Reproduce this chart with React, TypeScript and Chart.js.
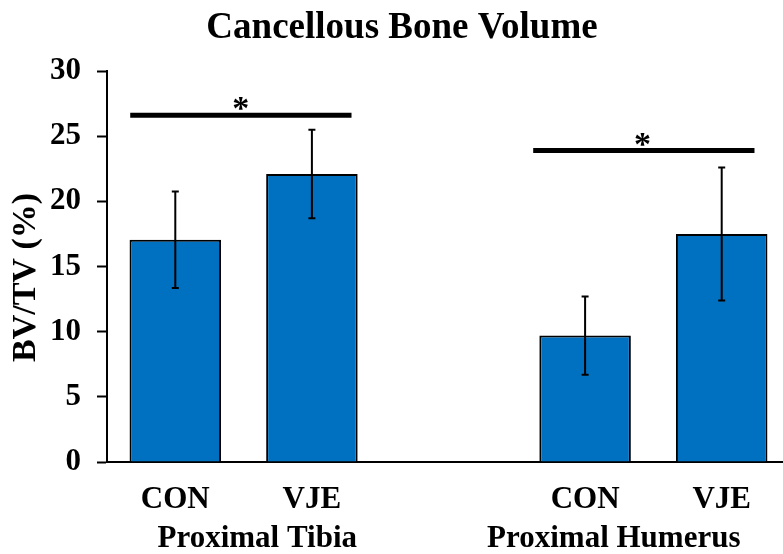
import React, { useEffect, useRef } from "react";
import { Chart, registerables } from "chart.js";

Chart.register(...registerables);

const categories = ["CON", "VJE", "", "CON", "VJE"];
const meanValues = [17.05, 22.1, null, 9.7, 17.5];
const errorValues = [3.7, 3.4, null, 3.0, 5.1];
const yTicks = [0, 5, 10, 15, 20, 25, 30];
const groupLabels = ["Proximal Tibia", "Proximal Humerus"];
const groupLabelPos = [0.6, 3.21];
const sigBars = [
  { from: -0.33, to: 1.29, y: 26.6, star: 0.48 },
  { from: 2.62, to: 4.24, y: 23.9, star: 3.42 },
];

const FONT = "'Liberation Serif', 'Times New Roman', serif";

const overlayPlugin = {
  id: "overlay",
  afterDatasetsDraw(chart: any) {
    const { ctx, scales } = chart;
    const x = scales.x;
    const y = scales.y;
    ctx.save();
    ctx.strokeStyle = "#000";
    ctx.lineWidth = 2;
    meanValues.forEach((m, i) => {
      const e = errorValues[i];
      if (m == null || e == null) return;
      const px = x.getPixelForValue(i);
      const top = y.getPixelForValue(m + e);
      const bot = y.getPixelForValue(m - e);
      ctx.beginPath();
      ctx.moveTo(px, top);
      ctx.lineTo(px, bot);
      ctx.moveTo(px - 3.5, top);
      ctx.lineTo(px + 3.5, top);
      ctx.moveTo(px - 3.5, bot);
      ctx.lineTo(px + 3.5, bot);
      ctx.stroke();
    });
    sigBars.forEach((s) => {
      const py = y.getPixelForValue(s.y);
      ctx.lineWidth = 5;
      ctx.beginPath();
      ctx.moveTo(x.getPixelForValue(s.from), py);
      ctx.lineTo(x.getPixelForValue(s.to), py);
      ctx.stroke();
      ctx.fillStyle = "#000";
      ctx.font = `bold 34px ${FONT}`;
      ctx.textAlign = "center";
      ctx.textBaseline = "alphabetic";
      ctx.fillText("*", x.getPixelForValue(s.star), py + 4);
    });
    ctx.restore();
  },
  afterDraw(chart: any) {
    const { ctx, scales, chartArea } = chart;
    const x = scales.x;
    ctx.save();
    ctx.fillStyle = "#000";
    ctx.textAlign = "center";
    ctx.textBaseline = "middle";
    ctx.font = `bold 37px ${FONT}`;
    ctx.fillText("Cancellous Bone Volume", 402, 28);
    ctx.font = `bold 31px ${FONT}`;
    groupLabels.forEach((g, i) => {
      ctx.fillText(g, x.getPixelForValue(groupLabelPos[i]), 539);
    });
    ctx.translate(26, (chartArea.top + chartArea.bottom) / 2 + 11);
    ctx.rotate(-Math.PI / 2);
    ctx.font = `bold 34px ${FONT}`;
    ctx.fillText("BV/TV (%)", 0, 0);
    ctx.restore();
  },
};

export default function App() {
  const ref = useRef<HTMLCanvasElement | null>(null);
  useEffect(() => {
    document.body.style.margin = "0";
    const canvas = ref.current!;
    const chart = new Chart(canvas, {
      type: "bar",
      data: {
        labels: categories,
        datasets: [
          {
            data: meanValues as any,
            backgroundColor: "#0070C0",
            borderColor: "#000",
            borderWidth: 2,
            barPercentage: 0.67,
            categoryPercentage: 1,
          },
        ],
      },
      options: {
        responsive: false,
        animation: false,
        layout: { padding: { top: 71, right: 10, left: 0, bottom: 0 } },
        plugins: {
          legend: { display: false },
          title: { display: false },
          tooltip: { enabled: false },
        },
        scales: {
          x: {
            grid: { display: false },
            border: { display: true, color: "#000", width: 2 },
            ticks: {
              color: "#000",
              padding: 11,
              font: { family: FONT, size: 31, weight: "bold" },
              maxRotation: 0,
            },
            afterFit(scale: any) {
              scale.height = 92;
            },
          },
          y: {
            min: 0,
            max: 30,
            afterBuildTicks(scale: any) {
              scale.ticks = yTicks.map((v) => ({ value: v }));
            },
            grid: {
              drawOnChartArea: false,
              drawTicks: true,
              tickLength: 10,
              tickColor: "#000",
              tickWidth: 2,
            },
            border: { display: true, color: "#000", width: 2 },
            ticks: {
              color: "#000",
              padding: 16,
              font: { family: FONT, size: 31, weight: "bold" },
            },
            afterFit(scale: any) {
              scale.width = 107;
            },
          },
        },
      },
      plugins: [overlayPlugin],
    });
    return () => chart.destroy();
  }, []);
  return (
    <div
      style={{
        position: "absolute",
        left: 0,
        top: 0,
        width: 783,
        height: 554,
        overflow: "hidden",
        background: "#fff",
      }}
    >
      <canvas ref={ref} width={800} height={554} style={{ display: "block" }} />
    </div>
  );
}
